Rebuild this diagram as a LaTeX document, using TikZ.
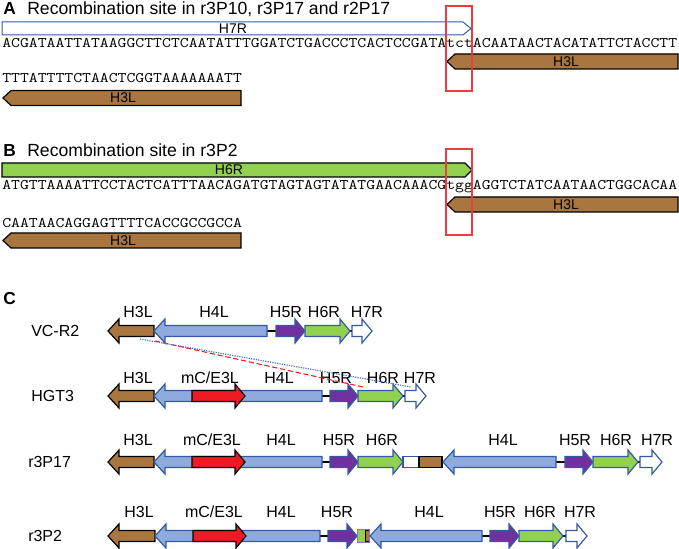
\documentclass[tikz,border=0pt]{standalone}
\usepackage{fontspec}
\usepackage{graphicx}
\setmainfont{Liberation Sans}
\usetikzlibrary{positioning}
\definecolor{genebrown}{RGB}{168,118,62}
\definecolor{geneblue}{RGB}{143,170,220}
\definecolor{geneedge}{RGB}{52,90,165}
\definecolor{genered}{RGB}{237,28,36}
\definecolor{genepurple}{RGB}{112,48,160}
\definecolor{genegreen}{RGB}{146,208,80}
\definecolor{boxred}{RGB}{236,60,60}
\definecolor{dotblue}{RGB}{68,114,196}
\tikzset{
	brownarr/.style  = {fill=genebrown, draw=black, line width=0.9pt},
	bluearr/.style   = {fill=geneblue, draw=geneedge, line width=0.9pt},
	redarr/.style    = {fill=genered, draw=black, line width=0.9pt},
	purplearr/.style = {fill=genepurple, draw=geneedge, line width=0.9pt},
	greenarr/.style  = {fill=genegreen, draw=geneedge, line width=0.9pt},
	whitearr/.style  = {fill=white, draw=geneedge, line width=0.9pt},
	tag/.style       = {font=\bfseries\fontsize{13}{15}\selectfont, inner sep=0pt, anchor=base west},
	title/.style     = {font=\fontsize{13.2}{16}\selectfont, inner sep=0pt, anchor=base west},
	seq/.style       = {font=\ttfamily\fontsize{11}{13}\selectfont, inner sep=0pt, anchor=base west},
	inlabel/.style   = {font=\fontsize{10.5}{12}\selectfont, inner sep=0pt},
	genelabel/.style = {font=\fontsize{12}{14}\selectfont, inner sep=0pt},
	rowlabel/.style  = {font=\fontsize{12}{14}\selectfont, inner sep=0pt, anchor=west},
	linker/.style    = {line width=2.2pt, black},
	sitebox/.style   = {draw=boxred, line width=1pt}
}
% sequence text, stretched to a set width (6.66pt per base)
\newcommand{\dna}[2]{\resizebox{#1}{\height}{#2}}
% gene arrow: style, tail x, tip x, centre y, body half, head half, head length
\newcommand{\geneR}[7]{\draw[#1] (#2,#4-#5) -- (#3-#7,#4-#5) -- (#3-#7,#4-#6) -- (#3,#4) -- (#3-#7,#4+#6) -- (#3-#7,#4+#5) -- (#2,#4+#5) -- cycle;}
\newcommand{\geneL}[7]{\draw[#1] (#2,#4-#5) -- (#3+#7,#4-#5) -- (#3+#7,#4-#6) -- (#3,#4) -- (#3+#7,#4+#6) -- (#3+#7,#4+#5) -- (#2,#4+#5) -- cycle;}

\begin{document}
\begin{tikzpicture}[x=0.75pt, y=-0.75pt]
	\useasboundingbox (0,0) rectangle (679,549);

	% panel A
	\node[tag] (tagA) at (3,15) {A};
	\node[title] (titleA) at (27,15) {Recombination site in r3P10, r3P17 and r2P17};
	\geneR{whitearr, line width=0.75pt}{2}{471}{28.5}{6.5}{6.5}{8}
	\node[inlabel] (h7rA) at (233,28.5) {H7R};
	\node[seq] (seqA1) at (2,48) {\dna{506.2pt}{ACGATAATTATAAGGCTTCTCAATATTTGGATCTGACCCTCACTCCGATAtctACAATAACTACATATTCTACCTT}};
	\geneL{brownarr}{678}{447}{61.5}{7.5}{7.5}{8}
	\node[inlabel] (h3lA1) at (566,61.5) {H3L};
	\node[seq] (seqA2) at (2,83) {\dna{179.8pt}{TTTATTTTCTAACTCGGTAAAAAAATT}};
	\geneL{brownarr}{241}{3}{98}{7.5}{7.5}{8}
	\node[inlabel] (h3lA2) at (123,98) {H3L};
	\draw[sitebox] (446,6) rectangle (472,91);

	% panel B
	\node[tag] (tagB) at (3,157) {B};
	\node[title] (titleB) at (27,157) {Recombination site in r3P2};
	\geneR{greenarr, draw=black}{2}{472}{170}{7}{7}{7}
	\node[inlabel] (h6rB) at (229,170) {H6R};
	\node[seq] (seqB1) at (2,190) {\dna{506.2pt}{ATGTTAAAATTCCTACTCATTTAACAGATGTAGTAGTATATGAACAAACGtggAGGTCTATCAATAACTGGCACAA}};
	\geneL{brownarr}{678}{447}{204.5}{7.5}{7.5}{8}
	\node[inlabel] (h3lB1) at (566,204.5) {H3L};
	\node[seq] (seqB2) at (2,228) {\dna{179.8pt}{CAATAACAGGAGTTTTCACCGCCGCCA}};
	\geneL{brownarr}{241}{3}{240.5}{7.5}{7.5}{8}
	\node[inlabel] (h3lB2) at (123,240.5) {H3L};
	\draw[sitebox] (446,149) rectangle (472,235);

	% panel C
	\node[tag] (tagC) at (3,305) {C};

	% VC-R2
	\node[rowlabel] (vcr2) at (31,331) {VC-R2};
	\draw[linker] (266,331) -- (277,331);
	\draw[linker, line width=1.5pt] (349,331) -- (353,331);
	\geneL{brownarr}{154}{108}{331}{5.5}{12}{11}
	\geneL{bluearr}{267}{154}{331}{5.5}{12}{11}
	\geneR{purplearr}{276}{305}{331}{5.5}{12}{10}
	\geneR{greenarr}{305}{350}{331}{5.5}{12}{10}
	\geneR{whitearr}{352}{372}{331}{5.5}{12}{10}
	\node[genelabel] (vH3L) at (138,312) {H3L};
	\node[genelabel] (vH4L) at (214,312) {H4L};
	\node[genelabel] (vH5R) at (286,312) {H5R};
	\node[genelabel] (vH6R) at (324,312) {H6R};
	\node[genelabel] (vH7R) at (367,312) {H7R};

	% HGT3
	\node[rowlabel] (hgt3) at (31,396) {HGT3};
	\draw[linker] (321,396) -- (331,396);
	\draw[linker, line width=1.5pt] (402,396) -- (406,396);
	\geneL{brownarr}{154}{108}{396}{5.5}{12}{11}
	\geneL{bluearr}{322}{154}{396}{5.5}{12}{11}
	\geneR{redarr}{192}{245}{396}{5.5}{12}{10}
	\geneR{purplearr}{330}{358}{396}{5.5}{12}{10}
	\geneR{greenarr}{358}{403}{396}{5.5}{12}{10}
	\geneR{whitearr}{405}{426}{396}{5.5}{12}{10}
	\node[genelabel] (gH3L) at (138,378) {H3L};
	\node[genelabel] (gE3L) at (210,378) {mC/E3L};
	\node[genelabel] (gH4L) at (279,378) {H4L};
	\node[genelabel] (gH5R) at (336,378) {H5R};
	\node[genelabel] (gH6R) at (383,378) {H6R};
	\node[genelabel] (gH7R) at (420,378) {H7R};

	% r3P17
	\node[rowlabel] (r3p17) at (28,462) {r3P17};
	\draw[linker] (321,462) -- (331,462);
	\draw[linker] (555,462) -- (566,462);
	\draw[linker, line width=1.5pt] (637,462) -- (641,462);
	\geneL{brownarr}{154}{108}{462}{5.5}{12}{11}
	\geneL{bluearr}{322}{154}{462}{5.5}{12}{11}
	\geneR{redarr}{192}{245}{462}{5.5}{12}{10}
	\geneR{purplearr}{330}{358}{462}{5.5}{12}{10}
	\geneR{greenarr}{358}{403}{462}{5.5}{12}{10}
	\draw[whitearr] (403,456.5) rectangle (419,467.5);
	\draw[brownarr] (419,456.5) rectangle (442,467.5);
	\geneL{bluearr}{556}{443}{462}{5.5}{12}{11}
	\geneR{purplearr}{565}{593}{462}{5.5}{12}{10}
	\geneR{greenarr}{593}{638}{462}{5.5}{12}{10}
	\geneR{whitearr}{640}{662}{462}{5.5}{12}{10}
	\node[genelabel] (pH3L) at (138,440) {H3L};
	\node[genelabel] (pE3L) at (212,440) {mC/E3L};
	\node[genelabel] (pH4L) at (281,440) {H4L};
	\node[genelabel] (pH5R) at (339,440) {H5R};
	\node[genelabel] (pH6R) at (382,440) {H6R};
	\node[genelabel] (pH4Lb) at (503,440) {H4L};
	\node[genelabel] (pH5Rb) at (575,440) {H5R};
	\node[genelabel] (pH6Rb) at (616,440) {H6R};
	\node[genelabel] (pH7Rb) at (657,440) {H7R};

	% r3P2
	\node[rowlabel] (r3p2) at (28,536) {r3P2};
	\draw[linker] (319,536) -- (329,536);
	\draw[linker] (481,536) -- (491,536);
	\draw[linker, line width=1.5pt] (562,536) -- (567,536);
	\geneL{brownarr}{155}{108}{536}{5.5}{12}{11}
	\geneL{bluearr}{320}{155}{536}{5.5}{12}{11}
	\geneR{redarr}{193}{246}{536}{5.5}{12}{10}
	\geneR{purplearr}{328}{357}{536}{5.5}{12}{10}
	\fill[genegreen] (358,530) rectangle (365,542);
	\draw[brownarr, line width=0.6pt] (365,530.5) rectangle (369,541.5);
	\draw[genepurple!70, line width=0.8pt] (357.5,529.5) rectangle (369.5,542.5);
	\geneL{bluearr}{482}{370}{536}{5.5}{12}{11}
	\geneR{purplearr}{490}{519}{536}{5.5}{12}{10}
	\geneR{greenarr}{519}{563}{536}{5.5}{12}{10}
	\geneR{whitearr}{566}{587}{536}{5.5}{12}{10}
	\node[genelabel] (qH3L) at (139,512) {H3L};
	\node[genelabel] (qE3L) at (214,512) {mC/E3L};
	\node[genelabel] (qH4L) at (281,512) {H4L};
	\node[genelabel] (qH5R) at (337,512) {H5R};
	\node[genelabel] (qH4Lb) at (429,512) {H4L};
	\node[genelabel] (qH5Rb) at (500,512) {H5R};
	\node[genelabel] (qH6Rb) at (540,512) {H6R};
	\node[genelabel] (qH7Rb) at (580,512) {H7R};

	% alignment of VC-R2 onto HGT3
	\coordinate (redA) at (155,341);
	\coordinate (redB) at (363,387);
	\coordinate (dotA) at (140,339);
	\coordinate (dotB) at (411,387);
	\draw[genered, line width=0.8pt, dash pattern=on 4pt off 2pt] (redA) -- (redB);
	\draw[dotblue, line width=0.9pt, dash pattern=on 0.9pt off 0.9pt] (dotA) -- (dotB);
\end{tikzpicture}
\end{document}
